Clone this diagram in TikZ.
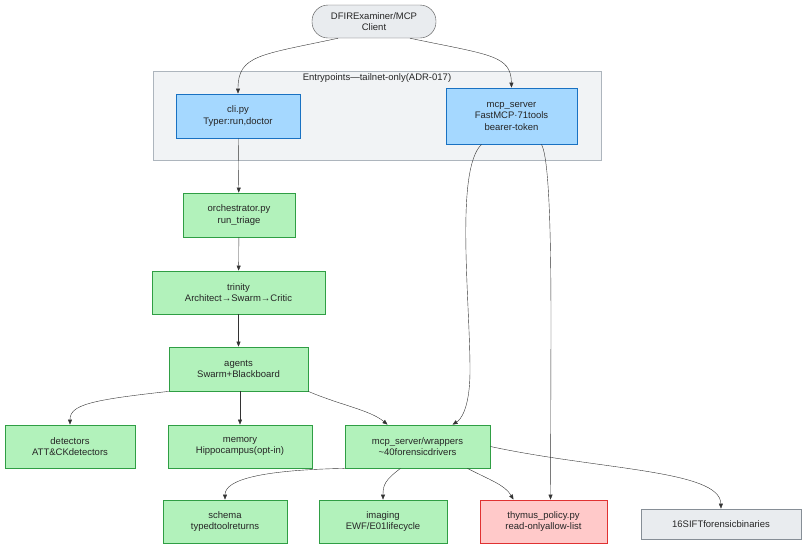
\documentclass[tikz,border=0pt]{standalone}
\usepackage{fontspec}
\setmainfont{Liberation Sans}
\usetikzlibrary{arrows.meta}
\definecolor{bfill}{HTML}{A5D8FF}\definecolor{bdraw}{HTML}{1971C2}
\definecolor{gfill}{HTML}{B2F2BB}\definecolor{gdraw}{HTML}{2F9E44}
\definecolor{rfill}{HTML}{FFC9C9}\definecolor{rdraw}{HTML}{E03131}
\definecolor{kfill}{HTML}{E9ECEF}\definecolor{kdraw}{HTML}{868E96}
\definecolor{cfill}{HTML}{F1F3F5}\definecolor{cdraw}{HTML}{ADB5BD}
\definecolor{edge}{HTML}{333333}
\begin{document}
\begin{tikzpicture}[x=1pt,y=-1pt,
  every node/.style={font=\fontsize{9.5}{11.5}\selectfont,align=center,text=black!85},
  bx/.style={draw,thick,minimum width=#1,inner sep=0pt},
  blue/.style={bx=#1,fill=bfill,draw=bdraw},
  green/.style={bx=#1,fill=gfill,draw=gdraw},
  red/.style={bx=#1,fill=rfill,draw=rdraw},
  grey/.style={bx=#1,fill=kfill,draw=kdraw},
  arr/.style={draw=edge,-{Triangle[length=5pt,width=4pt]}}]
\useasboundingbox (0,0) rectangle (806,550);
\node[draw=cdraw,fill=cfill,minimum width=448,minimum height=89,inner sep=0pt] (cl) at (377,115.5) {};
\node at (377,78) {Entrypoints—tailnet-only(ADR-017)};
\node[draw=black!70,fill=kfill,rounded corners=16pt,minimum width=124,minimum height=33,inner sep=0pt] (client) at (374,21.5) {DFIRExaminer/MCP\\Client};
\node[blue=124,minimum height=44] (cli) at (238,116) {cli.py\\Typer:run,doctor};
\node[blue=131,minimum height=56] (mcp) at (511.5,116) {mcp\_server\\FastMCP·71tools\\bearer-token};
\node[green=112,minimum height=44] (orch) at (239,215) {orchestrator.py\\run\_triage};
\node[green=173,minimum height=43] (tri) at (238.5,292.5) {trinity\\Architect→Swarm→Critic};
\node[green=139,minimum height=44] (ag) at (238.5,369) {agents\\Swarm+Blackboard};
\node[green=130,minimum height=43] (det) at (70,446.5) {detectors\\ATT\&CKdetectors};
\node[green=144,minimum height=43] (mem) at (240,446.5) {memory\\Hippocampus(opt-in)};
\node[green=145,minimum height=43] (wr) at (417.5,446.5) {mcp\_server/wrappers\\\textasciitilde40forensicdrivers};
\node[green=124,minimum height=43] (sch) at (225,521.5) {schema\\typedtoolreturns};
\node[green=128,minimum height=43] (img) at (383,521.5) {imaging\\EWF/E01lifecycle};
\node[red=127,minimum height=43] (thy) at (543.5,521.5) {thymus\_policy.py\\read-onlyallow-list};
\node[grey=160,minimum height=30] (sift) at (721,524) {16SIFTforensicbinaries};
\draw[arr] (client.205) .. controls (260,55) and (238,55) .. (cli.north);
\draw[arr] (client.335) .. controls (490,55) and (511,55) .. (mcp.north);
\draw[arr] (cli) -- (orch);
\draw[arr] (orch) -- (tri);
\draw[arr] (tri) -- (ag);
\draw[arr] (ag.south west) .. controls (90,400) and (70,405) .. (det.north);
\draw[arr] (ag.south -| mem.north) -- (mem.north);
\draw[arr] (ag.south east) .. controls (340,405) and (370,410) .. ([xshift=-30pt]wr.north);
\draw[arr] ([xshift=-30pt]mcp.south) .. controls (455,170) and (470,300) .. (470,370) .. controls (470,410) and (460,420) .. ([xshift=35pt]wr.north);
\draw[arr] ([xshift=30pt]mcp.south) .. controls (550,160) and (551,250) .. (551,330) -- ([xshift=7pt]thy.north);
\draw[arr] (wr.south west) .. controls (260,470) and (225,480) .. (sch.north);
\draw[arr] ([xshift=-17pt]wr.south) .. controls (385,480) and (383,485) .. (img.north);
\draw[arr] ([xshift=50pt]wr.south) .. controls (490,480) and (505,485) .. ([xshift=-30pt]thy.north);
\draw[arr] (wr.east) .. controls (600,470) and (720,470) .. (sift.north);
\end{tikzpicture}
\end{document}
